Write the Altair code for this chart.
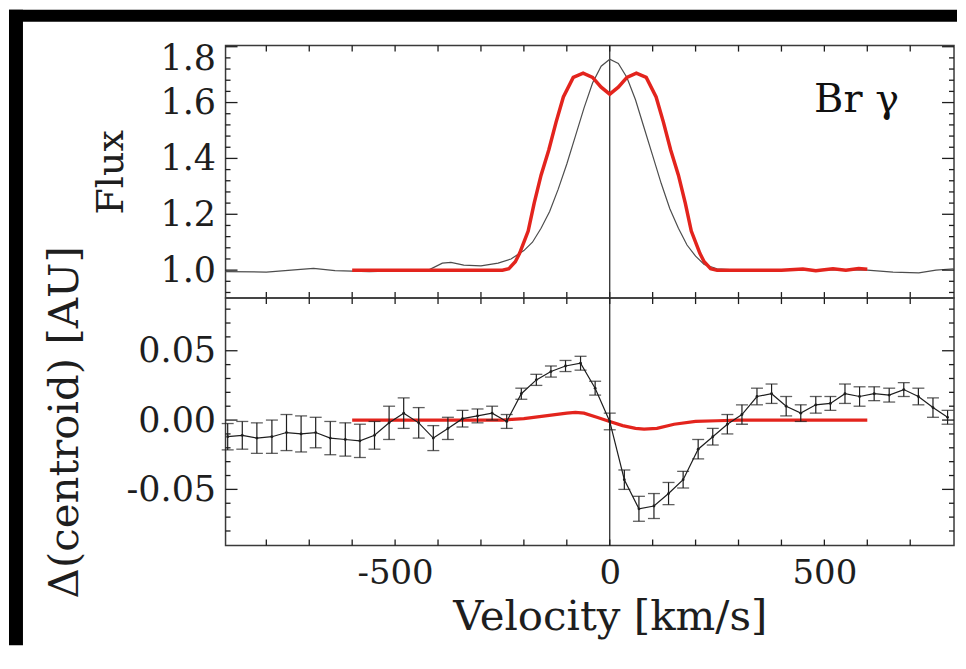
import altair as alt
import pandas as pd

# ---------------- data ----------------
# upper panel: observed Br gamma line profile (thin grey)
obs_v = [-895, -800, -720, -690, -640, -560, -480, -420, -390, -370, -340, -300, -260, -230,
         -200, -180, -160, -140, -120, -100, -80, -60, -40, -20, 0, 20, 40, 60, 80, 100,
         120, 140, 160, 180, 200, 220, 250, 300, 400, 500, 600, 660, 720, 760, 802]
obs_flux = [0.995, 0.993, 1.003, 1.006, 0.998, 0.995, 0.998, 1.002, 1.025, 1.028, 1.018, 1.015, 1.025, 1.04,
            1.07, 1.10, 1.15, 1.21, 1.29, 1.38, 1.48, 1.58, 1.67, 1.73, 1.755, 1.74, 1.69, 1.61, 1.51, 1.41,
            1.31, 1.22, 1.15, 1.09, 1.05, 1.02, 1.005, 1.0, 1.0, 1.002, 1.0, 0.993, 0.99, 1.0, 1.005]

# upper panel: model line profile (thick red)
mod_v = [-600, -500, -400, -300, -250, -235, -220, -210, -190, -176, -160, -142, -125, -108, -85,
         -62, -40, -20, 0, 20, 40, 62, 85, 108, 125, 142, 160, 176, 190, 210, 220, 235, 250,
         300, 400, 450, 480, 520, 550, 580, 600]
mod_flux = [1.0, 1.0, 1.0, 1.0, 1.0, 1.005, 1.03, 1.06, 1.14, 1.24, 1.34, 1.43, 1.53, 1.62, 1.69,
            1.705, 1.69, 1.655, 1.63, 1.655, 1.69, 1.705, 1.69, 1.62, 1.53, 1.43, 1.34, 1.24, 1.14, 1.06, 1.03, 1.005, 1.0,
            1.0, 1.0, 1.004, 0.998, 1.005, 1.0, 1.006, 1.003]

# lower panel: measured centroid shift with error bars (black)
cen_v = [-890, -856, -822, -787, -753, -719, -685, -651, -616, -582, -548, -514, -480, -445, -411,
         -377, -343, -308, -274, -240, -206, -171, -137, -103, -68, -34, 0, 34, 68, 103, 137, 171,
         206, 240, 274, 308, 343, 377, 411, 445, 480, 514, 548, 582, 616, 651, 685, 719, 753, 787]
cen_val = [-0.012, -0.011, -0.013, -0.012, -0.009, -0.010, -0.009, -0.013, -0.014, -0.015, -0.011, -0.002,
           0.005, -0.002, -0.013, -0.006, 0.001, 0.003, 0.005, -0.001, 0.019, 0.029, 0.035, 0.039, 0.041,
           0.023, -0.001, -0.043, -0.064, -0.062, -0.053, -0.043, -0.021, -0.012, -0.003, 0.004, 0.017,
           0.019, 0.010, 0.005, 0.011, 0.012, 0.019, 0.017, 0.019, 0.018, 0.022, 0.017, 0.009, 0.002]
cen_err = [0.0095, 0.010, 0.011, 0.012, 0.013, 0.013, 0.011, 0.012, 0.012, 0.012, 0.010, 0.012, 0.011,
           0.011, 0.009, 0.008, 0.006, 0.005, 0.005, 0.005, 0.004, 0.004, 0.004, 0.004, 0.005, 0.005,
           0.006, 0.007, 0.009, 0.009, 0.008, 0.006, 0.007, 0.006, 0.007, 0.007, 0.006, 0.007, 0.007,
           0.006, 0.006, 0.005, 0.007, 0.007, 0.005, 0.005, 0.005, 0.006, 0.007, 0.005]

# lower panel: model centroid shift (thick red)
cmod_v = [-600, -400, -250, -200, -150, -100, -80, -60, -30, 0, 30, 60, 80, 110, 150, 200, 250, 300, 600]
cmod_val = [0.0, 0.0, 0.0, 0.001, 0.003, 0.005, 0.0055, 0.005, 0.002, -0.001, -0.004, -0.006, -0.0065,
            -0.006, -0.003, -0.001, -0.0005, 0.0, 0.0]

# axis ticks and labels
x_tick_vals = [-800, -700, -600, -500, -400, -300, -200, -100, 0, 100, 200, 300, 400, 500, 600, 700]
x_label_vals = [-500, 0, 500]
top_major = [1.0, 1.2, 1.4, 1.6, 1.8]
top_minor = [0.92, 0.96, 1.04, 1.08, 1.12, 1.16, 1.24, 1.28, 1.32, 1.36, 1.44, 1.48, 1.52, 1.56,
             1.64, 1.68, 1.72, 1.76]
bot_major = [-0.05, 0.0, 0.05]
bot_minor = [-0.08, -0.07, -0.06, -0.04, -0.03, -0.02, -0.01, 0.01, 0.02, 0.03, 0.04, 0.06, 0.07, 0.08]
zero_line = [0]
label_v = [575]
label_f = [1.61]
label_txt = ["Br γ"]

# ---------------- chart ----------------
W, H1, H2 = 730, 253, 248
FONT = "DejaVu Serif"
RED = "#e3241d"
INK = "#1e1e1e"

xs = alt.Scale(domain=[-895, 802], nice=False, zero=False)
ys1 = alt.Scale(domain=[0.9, 1.804], nice=False, zero=False)
ys2 = alt.Scale(domain=[-0.0905, 0.088], nice=False, zero=False)

obs_df = pd.DataFrame({"v": obs_v, "f": obs_flux})
mod_df = pd.DataFrame({"v": mod_v, "f": mod_flux})
cen_df = pd.DataFrame({"v": cen_v, "c": cen_val, "e": cen_err})
cen_df["lo"] = cen_df["c"] - cen_df["e"]
cen_df["hi"] = cen_df["c"] + cen_df["e"]
cmod_df = pd.DataFrame({"v": cmod_v, "c": cmod_val})
xt_df = pd.DataFrame({"t": x_tick_vals})
zero_df = pd.DataFrame({"v": zero_line})
lab_df = pd.DataFrame({"v": label_v, "f": label_f, "s": label_txt})

axis_common = dict(ticks=False, tickSize=0, domain=False, grid=False,
                   labelFont=FONT, labelColor=INK, labelOverlap=False,
                   titleFont=FONT, titleFontWeight="normal", titleColor=INK)
neg_fmt = "datum.value < 0 ? '-' + format(-datum.value, '{f}') : format(datum.value, '{f}')"

# one axis object per channel, shared by every layer of a panel
ax_top_x = alt.Axis(values=x_label_vals, labels=False, title=None, ticks=False, domain=False, grid=False)
ax_top_y = alt.Axis(values=top_major, format=".1f", labelPadding=10, labelFontSize=35,
                    labelOffset={"condition": {"test": "datum.value > 1.79", "value": 12}, "value": 0},
                    title="Flux", titleFontSize=38, titlePadding=30, **axis_common)
ax_bot_x = alt.Axis(values=x_label_vals, labelExpr=neg_fmt.format(f="d"), labelPadding=11,
                    labelFontSize=34,
                    title="Velocity [km/s]", titleFontSize=42, titlePadding=6, titleX=385,
                    **axis_common)
ax_bot_y = alt.Axis(values=bot_major, labelExpr=neg_fmt.format(f=".2f"), labelPadding=10,
                    labelFontSize=35,
                    title="Δ(centroid) [AU]", titleFontSize=42, titlePadding=40, **axis_common)


def X(field, ax):
    return alt.X(field, scale=xs, axis=ax)


def tick_layers(ys, yax, xax, h, major, minor):
    """Inward-pointing ticks on all four sides of a panel (IDL style)."""
    layers = []
    xt = alt.Chart(xt_df).mark_rule(color=INK, strokeWidth=1.3)
    layers.append(xt.encode(x=X("t:Q", xax), y=alt.value(0), y2=alt.value(6)))
    layers.append(xt.encode(x=X("t:Q", xax), y=alt.value(h), y2=alt.value(h - 6)))
    for vals, ln in ((major, 12), (minor, 5)):
        d = pd.DataFrame({"t": vals})
        base = alt.Chart(d).mark_rule(color=INK, strokeWidth=1.3)
        layers.append(base.encode(y=alt.Y("t:Q", scale=ys, axis=yax), x=alt.value(0), x2=alt.value(ln)))
        layers.append(base.encode(y=alt.Y("t:Q", scale=ys, axis=yax), x=alt.value(W), x2=alt.value(W - ln)))
    return layers


# black frame remnants of the scanned figure (decoration only)
frame_df = pd.DataFrame({"k": [0]})
frame_left = alt.Chart(frame_df).mark_rect(color="black").encode(
    x=alt.value(-217), x2=alt.value(-203), y=alt.value(-36), y2=alt.value(601))
frame_top = alt.Chart(frame_df).mark_rect(color="black").encode(
    x=alt.value(-217), x2=alt.value(733), y=alt.value(-36), y2=alt.value(-24))

top_obs = alt.Chart(obs_df).mark_line(color="#4d4d4d", strokeWidth=1.2).encode(
    x=X("v:Q", ax_top_x), y=alt.Y("f:Q", scale=ys1, axis=ax_top_y))
top_mod = alt.Chart(mod_df).mark_line(color=RED, strokeWidth=3.5).encode(
    x=X("v:Q", ax_top_x), y=alt.Y("f:Q", scale=ys1, axis=ax_top_y))
top_zero = alt.Chart(zero_df).mark_rule(color=INK, strokeWidth=1.2).encode(x=X("v:Q", ax_top_x))
top_text = alt.Chart(lab_df).mark_text(font=FONT, fontSize=40, color="#111",
                                       align="center", baseline="middle").encode(
    x=X("v:Q", ax_top_x), y=alt.Y("f:Q", scale=ys1, axis=ax_top_y), text="s:N")

top = alt.layer(frame_left, frame_top, top_zero, top_obs, top_mod, top_text,
                *tick_layers(ys1, ax_top_y, ax_top_x, H1, top_major, top_minor)
                ).properties(width=W, height=H1)

bot_mod = alt.Chart(cmod_df).mark_line(color=RED, strokeWidth=3.2).encode(
    x=X("v:Q", ax_bot_x), y=alt.Y("c:Q", scale=ys2, axis=ax_bot_y))
bot_bars = alt.Chart(cen_df).mark_rule(color=INK, strokeWidth=1.2).encode(
    x=X("v:Q", ax_bot_x), y=alt.Y("lo:Q", scale=ys2, axis=ax_bot_y), y2="hi:Q")
cap_lo = alt.Chart(cen_df).mark_tick(color=INK, orient="horizontal", size=12, thickness=1.3).encode(
    x=X("v:Q", ax_bot_x), y=alt.Y("lo:Q", scale=ys2, axis=ax_bot_y))
cap_hi = alt.Chart(cen_df).mark_tick(color=INK, orient="horizontal", size=12, thickness=1.3).encode(
    x=X("v:Q", ax_bot_x), y=alt.Y("hi:Q", scale=ys2, axis=ax_bot_y))
bot_line = alt.Chart(cen_df).mark_line(color=INK, strokeWidth=1.2).encode(
    x=X("v:Q", ax_bot_x), y=alt.Y("c:Q", scale=ys2, axis=ax_bot_y))
bot_pts = alt.Chart(cen_df).mark_circle(color=INK, size=8, opacity=1).encode(
    x=X("v:Q", ax_bot_x), y=alt.Y("c:Q", scale=ys2, axis=ax_bot_y))
bot_zero = alt.Chart(zero_df).mark_rule(color=INK, strokeWidth=1.2).encode(x=X("v:Q", ax_bot_x))

bottom = alt.layer(bot_mod, bot_zero, bot_bars, cap_lo, cap_hi, bot_line, bot_pts,
                   *tick_layers(ys2, ax_bot_y, ax_bot_x, H2, bot_major, bot_minor)
                   ).properties(width=W, height=H2)

chart = alt.vconcat(top, bottom, spacing=0, bounds="flush").properties(
    padding=0, background="white"
).configure_view(stroke="#3a3a3a", strokeWidth=1.5)

chart.save("out.html", embed_options={"renderer": "svg", "actions": False})
